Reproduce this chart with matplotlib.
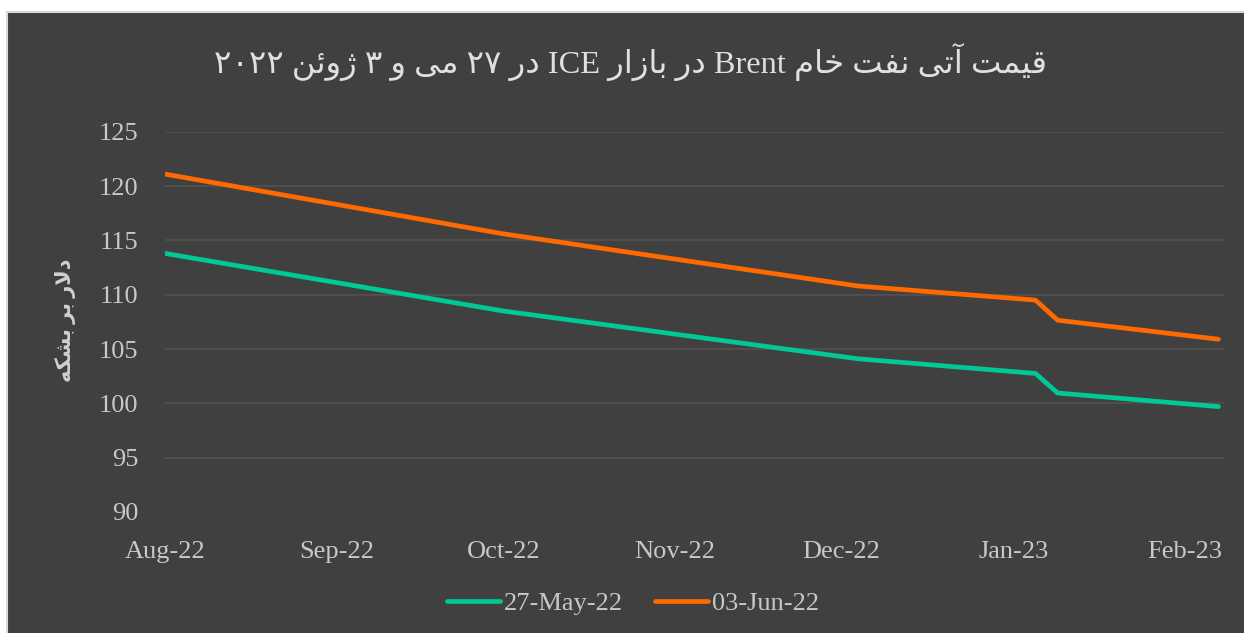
import matplotlib
matplotlib.use("Agg")
import matplotlib.pyplot as plt
import matplotlib.dates as mdates
from matplotlib.patches import Rectangle
import pandas as pd

# data
dates = ["2022-08-01", "2022-10-01", "2022-12-04", "2023-01-05", "2023-01-09", "2023-02-07"]
may27 = [113.8, 108.5, 104.1, 102.75, 100.95, 99.7]
jun03 = [121.1, 115.6, 110.8, 109.5, 107.65, 105.9]
labels = ["27-May-22", "03-Jun-22"]
colors = ["#00C896", "#FF6A00"]

title_fa = "قیمت آتی نفت خام Brent در بازار ICE در ۲۷ می و ۳ ژوئن ۲۰۲۲"
ylabel_fa = "دلار بر بشکه"

# minimal persian shaping (matplotlib has no RTL / joining support)
FORMS = {
    'ا': ('\uFE8D', '\uFE8E', None, None),
    'آ': ('\uFE81', '\uFE82', None, None),
    'ب': ('\uFE8F', '\uFE90', '\uFE91', '\uFE92'),
    'ت': ('\uFE95', '\uFE96', '\uFE97', '\uFE98'),
    'خ': ('\uFEA5', '\uFEA6', '\uFEA7', '\uFEA8'),
    'د': ('\uFEA9', '\uFEAA', None, None),
    'ر': ('\uFEAD', '\uFEAE', None, None),
    'ز': ('\uFEAF', '\uFEB0', None, None),
    'ژ': ('\uFB8A', '\uFB8B', None, None),
    'ش': ('\uFEB5', '\uFEB6', '\uFEB7', '\uFEB8'),
    'ف': ('\uFED1', '\uFED2', '\uFED3', '\uFED4'),
    'ق': ('\uFED5', '\uFED6', '\uFED7', '\uFED8'),
    'ک': ('\uFB8E', '\uFB8F', '\uFB90', '\uFB91'),
    'ل': ('\uFEDD', '\uFEDE', '\uFEDF', '\uFEE0'),
    'م': ('\uFEE1', '\uFEE2', '\uFEE3', '\uFEE4'),
    'ن': ('\uFEE5', '\uFEE6', '\uFEE7', '\uFEE8'),
    'ه': ('\uFEE9', '\uFEEA', '\uFEEB', '\uFEEC'),
    'و': ('\uFEED', '\uFEEE', None, None),
    'ئ': ('\uFE89', '\uFE8A', '\uFE8B', '\uFE8C'),
    'ی': ('\uFBFC', '\uFBFD', '\uFBFE', '\uFBFF'),
}


def shape(word):
    out = []
    for i, ch in enumerate(word):
        if ch not in FORMS:
            out.append(ch)
            continue
        f = FORMS[ch]
        prev = word[i - 1] if i > 0 else None
        nxt = word[i + 1] if i + 1 < len(word) else None
        jp = prev in FORMS and FORMS[prev][2] is not None
        jn = f[2] is not None and nxt in FORMS
        out.append(f[3] if (jp and jn) else f[1] if jp else f[2] if jn else f[0])
    s = ''.join(out)
    s = s.replace('\uFEDF\uFE8E', '\uFEFB').replace('\uFEE0\uFE8E', '\uFEFC')
    return s[::-1]


def rtl(text):
    words = text.split(' ')
    return ' '.join(shape(w) if any(c in FORMS for c in w) else w for w in reversed(words))


plt.rcParams['font.family'] = ['Liberation Serif', 'DejaVu Sans']

W, H = 1244, 633
fig = plt.figure(figsize=(W / 100, H / 100), dpi=100)
fig.patch.set_facecolor("white")
# dark chart area with light border on top/left, running off the right and bottom edges
fig.patches.append(Rectangle((7 / W, -0.05), 1.1, 1.05 - 12 / H, transform=fig.transFigure,
                             facecolor="#404040", edgecolor="#d9d9d9", linewidth=1.5, zorder=-10))

ax = fig.add_axes([165 / W, (H - 512) / H, (1224 - 165) / W, (512 - 131.7) / H])
ax.set_facecolor("#404040")

x = pd.to_datetime(dates)
ax.plot(x, may27, color=colors[0], lw=3.4, solid_capstyle="round", label=labels[0], zorder=3)
ax.plot(x, jun03, color=colors[1], lw=3.4, solid_capstyle="round", label=labels[1], zorder=3)

ax.set_ylim(90, 125)
ax.set_yticks(range(90, 126, 5))
ax.set_xlim(pd.Timestamp("2022-08-01"), pd.Timestamp("2023-02-08"))
ax.xaxis.set_major_locator(mdates.MonthLocator())
ax.xaxis.set_major_formatter(mdates.DateFormatter("%b-%y"))

ax.grid(axis="y", color="#515151", lw=1.2)
ax.get_ygridlines()[0].set_visible(False)
ax.set_axisbelow(True)
for s in ax.spines.values():
    s.set_visible(False)
ax.tick_params(axis="both", length=0, labelsize=19, labelcolor="#c8c8c8")
ax.tick_params(axis="y", pad=19)
ax.tick_params(axis="x", pad=21)

fig.text(630 / W, 1 - 62 / H, rtl(title_fa), ha="center", va="center",
         fontsize=23.3, color="#e0e0e0")
fig.text(66 / W, 1 - 320 / H, rtl(ylabel_fa), ha="center", va="center", rotation=90,
         fontsize=15, fontweight="bold", color="#d0d0d0")

leg = fig.legend(loc="center", bbox_to_anchor=(633 / W, 1 - 603 / H), ncol=2, frameon=False,
                 fontsize=19, labelcolor="#c8c8c8", handlelength=2.0, handletextpad=0.15,
                 columnspacing=1.2)

fig.savefig("out.png", dpi=100, facecolor=fig.get_facecolor())
